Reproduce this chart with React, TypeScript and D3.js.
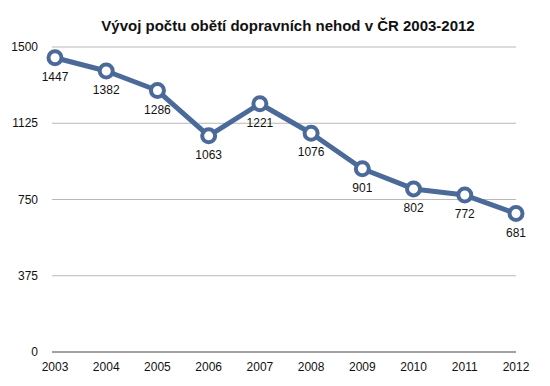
import React from 'react'
import * as d3 from 'd3'

const years = ['2003', '2004', '2005', '2006', '2007', '2008', '2009', '2010', '2011', '2012']
const victims = [1447, 1382, 1286, 1063, 1221, 1076, 901, 802, 772, 681]
const yTicks = [0, 375, 750, 1125, 1500]
const title = 'Vývoj počtu obětí dopravních nehod v ČR 2003-2012'

const W = 550
const H = 386
const left = 55
const right = 516
const top = 47
const bottom = 352
const blue = '#4b6a99'

export default function App() {
  const x = d3.scalePoint<string>().domain(years).range([left, right])
  const y = d3.scaleLinear().domain([0, 1500]).range([bottom, top])

  const data = years.map((yr, i) => ({ year: yr, value: victims[i] }))
  const line = d3.line<{ year: string; value: number }>()
    .x(d => x(d.year) as number)
    .y(d => y(d.value))

  return (
    <svg width={W} height={H} style={{ position: 'absolute', left: 0, top: 0, fontFamily: 'Liberation Sans, Arial, sans-serif' }}>
      <rect width={W} height={H} fill="#fff" />
      <text x={288} y={31} textAnchor="middle" fontSize={15} fontWeight="bold" fill="#111">{title}</text>
      {yTicks.map(t => (
        <g key={t}>
          <line x1={left - 3} x2={right} y1={y(t)} y2={y(t)}
            stroke={t === 0 ? '#444' : '#b8b8b8'} strokeWidth={t === 0 ? 1.2 : 1} />
          <text x={38} y={y(t) + 4} textAnchor="end" fontSize={12} fill="#111">{t}</text>
        </g>
      ))}
      {years.map(yr => (
        <text key={yr} x={x(yr)} y={371} textAnchor="middle" fontSize={12} fill="#111">{yr}</text>
      ))}
      <path d={line(data) ?? ''} fill="none" stroke={blue} strokeWidth={5} strokeLinejoin="round" />
      {data.map(d => (
        <g key={d.year}>
          <circle cx={x(d.year)} cy={y(d.value)} r={6.5} fill="#fff" stroke={blue} strokeWidth={4} />
          <text x={x(d.year)} y={y(d.value) + 23} textAnchor="middle" fontSize={12} fill="#111">{d.value}</text>
        </g>
      ))}
    </svg>
  )
}
